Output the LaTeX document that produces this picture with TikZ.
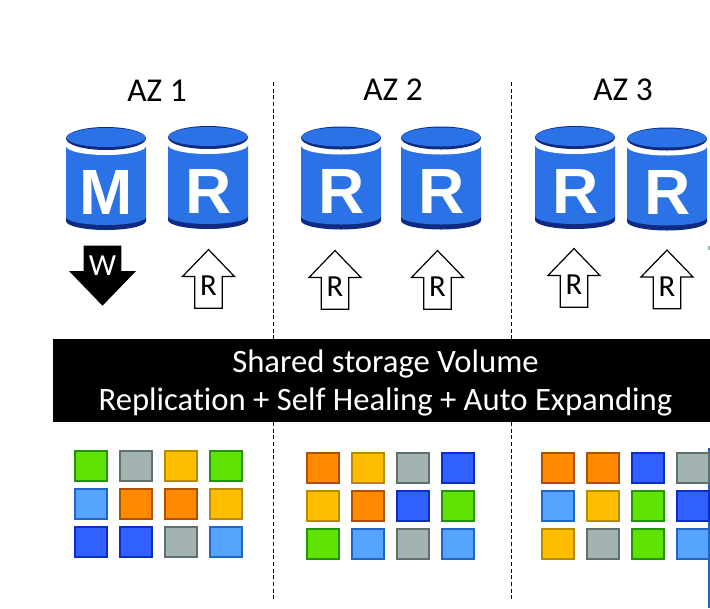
\documentclass[tikz,border=0pt]{standalone}
\usepackage{fontspec}
\setmainfont[Ligatures=NoCommon]{Carlito}
\newfontfamily\dbfont{Liberation Sans}
\usetikzlibrary{positioning,shapes.arrows}
\definecolor{limefill}{HTML}{5FE305}
\definecolor{limeedge}{HTML}{229408}
\definecolor{greyfill}{HTML}{A3B3B1}
\definecolor{greyedge}{HTML}{5F7070}
\definecolor{amberfill}{HTML}{FFBD00}
\definecolor{amberedge}{HTML}{B88A00}
\definecolor{skyfill}{HTML}{55A5FF}
\definecolor{skyedge}{HTML}{1F66C8}
\definecolor{orangefill}{HTML}{FF8A00}
\definecolor{orangeedge}{HTML}{B05000}
\definecolor{bluefill}{HTML}{3060FF}
\definecolor{blueedge}{HTML}{0A2FC8}
\definecolor{dbbody}{HTML}{2A72E5}
\definecolor{dbdark}{HTML}{0F2A80}
\tikzset{
    blk/.style={draw,line width=1.5pt,minimum width=24pt,minimum height=22.5pt,inner sep=0pt},
    lime/.style={blk,draw=limeedge,fill=limefill},
    grey/.style={blk,draw=greyedge,fill=greyfill},
    amber/.style={blk,draw=amberedge,fill=amberfill},
    sky/.style={blk,draw=skyedge,fill=skyfill},
    orng/.style={blk,draw=orangeedge,fill=orangefill},
    blu/.style={blk,draw=blueedge,fill=bluefill},
    updir/.style={single arrow,draw,line width=0.9pt,shape border rotate=90,inner sep=0pt,minimum width=39pt,minimum height=44pt,single arrow head extend=6pt,single arrow tip angle=88,single arrow head indent=0pt,font=\fontsize{23}{26}\selectfont},
    az/.style={font=\fontsize{25}{28}\selectfont},
    dbcyl/.pic={
        \fill[dbdark] (-40,38) -- (-40,42) arc (180:0:40 and 9) -- (40,38) -- cycle;
        \fill[dbbody] (-40,-33) -- (-40,38) arc (180:0:40 and 8) -- (40,-33) -- cycle;
        \fill[white] (0,-33) ellipse (40 and 9);
        \fill[dbdark] (0,-40.5) ellipse (40 and 11.5);
        \fill[dbbody] (0,-41.5) ellipse (39.5 and 9.5);
        \node[text=white,font=\dbfont\bfseries\fontsize{48}{50}\selectfont] (-lbl) at (0.5,13) {#1};
    }
}
\begin{document}
\begin{tikzpicture}[x=0.75pt,y=-0.75pt,node distance=4.5pt and 8.25pt]
    \useasboundingbox (0,0) rectangle (710,608);
    \coordinate (sep1t) at (273,82);
    \coordinate (sep1b) at (273,600);
    \coordinate (sep2t) at (511.5,82);
    \coordinate (sep2b) at (511.5,600);
    \coordinate (edget) at (709,448);
    \coordinate (edgeb) at (709,608);
    \coordinate (tickt) at (709,246);
    \coordinate (tickb) at (709,250);
    \draw[densely dashed,line width=0.6pt] (sep1t) -- (sep1b);
    \draw[densely dashed,line width=0.6pt] (sep2t) -- (sep2b);
    \draw[skyedge,line width=0.8pt] (edget) -- (edgeb);
    \draw[greyfill,line width=0.8pt] (tickt) -- (tickb);

    \node[az] (az1) at (157,91) {AZ 1};
    \node[az] (az2) at (393,90) {AZ 2};
    \node[az] (az3) at (623,90) {AZ 3};

    \pic (dbm) at (106,179) {dbcyl=M};
    \pic (dbr1) at (208,178) {dbcyl=R};
    \pic (dbr2) at (341,178.5) {dbcyl=R};
    \pic (dbr3) at (441,178.5) {dbcyl=R};
    \pic (dbr4) at (575,178) {dbcyl=R};
    \pic (dbr5) at (667,179.5) {dbcyl=R};

    \node[updir,fill=black,text=white,shape border rotate=270,inner sep=-2pt,minimum width=48pt,single arrow head extend=6.5pt] (wr) at (102.5,266) {W};
    \node[updir] (rd1) at (208.5,286) {R};
    \node[updir] (rd2) at (335,287) {R};
    \node[updir] (rd3) at (437.5,287) {R};
    \node[updir] (rd4) at (574,285) {R};
    \node[updir] (rd5) at (667,286.5) {R};

    \node[fill=black,minimum width=492.75pt,minimum height=62pt] (band) at (381.5,380.5) {};
    \node[text=white,align=center,font=\fontsize{24.5}{29}\selectfont] (bandtxt) at (385.5,383) {Shared storage Volume\\Replication + Self Healing + Auto Expanding};

    % first zone
    \node[lime] (a11) at (91,466) {};
    \node[grey,right=of a11] (a12) {};
    \node[amber,right=of a12] (a13) {};
    \node[lime,right=of a13] (a14) {};
    \node[sky,below=of a11] (a21) {};
    \node[orng,right=of a21] (a22) {};
    \node[orng,right=of a22] (a23) {};
    \node[amber,right=of a23] (a24) {};
    \node[blu,below=of a21] (a31) {};
    \node[blu,right=of a31] (a32) {};
    \node[grey,right=of a32] (a33) {};
    \node[sky,right=of a33] (a34) {};

    % second zone
    \node[orng] (b11) at (323,468) {};
    \node[amber,right=of b11] (b12) {};
    \node[grey,right=of b12] (b13) {};
    \node[blu,right=of b13] (b14) {};
    \node[amber,below=of b11] (b21) {};
    \node[orng,right=of b21] (b22) {};
    \node[blu,right=of b22] (b23) {};
    \node[lime,right=of b23] (b24) {};
    \node[lime,below=of b21] (b31) {};
    \node[sky,right=of b31] (b32) {};
    \node[grey,right=of b32] (b33) {};
    \node[sky,right=of b33] (b34) {};

    % third zone
    \node[orng] (c11) at (558,468) {};
    \node[orng,right=of c11] (c12) {};
    \node[blu,right=of c12] (c13) {};
    \node[grey,right=of c13] (c14) {};
    \node[sky,below=of c11] (c21) {};
    \node[amber,right=of c21] (c22) {};
    \node[lime,right=of c22] (c23) {};
    \node[blu,right=of c23] (c24) {};
    \node[amber,below=of c21] (c31) {};
    \node[grey,right=of c31] (c32) {};
    \node[lime,right=of c32] (c33) {};
    \node[sky,right=of c33] (c34) {};
\end{tikzpicture}
\end{document}
